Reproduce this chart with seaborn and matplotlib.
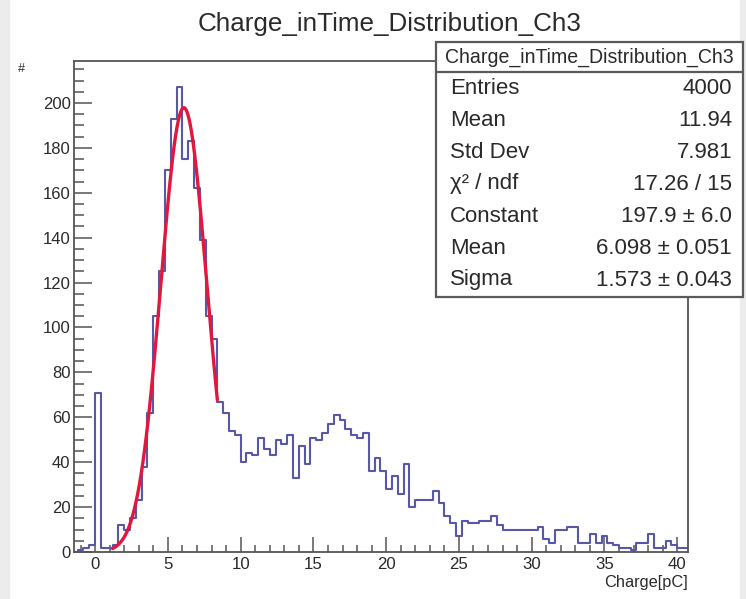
import numpy as np
import pandas as pd
import matplotlib
matplotlib.use("Agg")
import matplotlib.pyplot as plt
from matplotlib import font_manager
from matplotlib.patches import Rectangle
from matplotlib.ticker import MultipleLocator
import seaborn as sns

# ---- histogram data: 0.4 pC bins starting at -1.6 pC ----
bin_width = 0.4
first_edge = -1.6
counts = [
    0, 1, 2, 3,
    71, 2, 2, 3, 12, 10, 15, 23, 38, 62,
    105, 125, 170, 193, 207, 175, 183, 162, 139, 105,
    95, 67, 62, 54, 52, 40, 44, 43, 51, 46,
    43, 50, 48, 52, 33, 47, 39, 51, 50, 53,
    57, 61, 59, 55, 52, 51, 53, 36, 42, 36,
    28, 34, 26, 39, 20, 23, 23, 23, 27, 22,
    16, 13, 7, 14, 13, 13, 14, 14, 16, 12,
    10, 10, 10, 10, 10, 10, 11, 6, 4, 10,
    10, 11, 11, 4, 4, 8, 4, 7, 4, 3,
    2, 2, 1, 4, 4, 8, 2, 2, 5, 3, 2, 2,
]

# ---- gaussian fit result ----
fit_constant = 197.9
fit_mean = 6.098
fit_sigma = 1.573
fit_range = (1.2, 8.4)

# ---- statistics box ----
hist_name = "Charge_inTime_Distribution_Ch3"
stat_labels = ["Entries", "Mean", "Std Dev", "\u03c7\u00b2 / ndf", "Constant", "Mean", "Sigma"]
stat_values = ["4000", "11.94", "7.981", "17.26 / 15",
               "197.9 \u00b1 6.0", "6.098 \u00b1 0.051", "1.573 \u00b1 0.043"]

x_ticks = [0, 5, 10, 15, 20, 25, 30, 35, 40]
y_ticks = [0, 20, 40, 60, 80, 100, 120, 140, 160, 180, 200]

sns.set_theme(style="white")

# prefer a condensed Helvetica-like face; fall back to the regular width
available = {f.name for f in font_manager.fontManager.ttflist}
if "Liberation Sans Narrow" in available:
    families = ["Liberation Sans Narrow", "Liberation Sans", "DejaVu Sans"]
    fscale = 1.0
else:
    families = ["Liberation Sans", "DejaVu Sans"]
    fscale = 0.84
plt.rcParams["font.family"] = families

W, H = 746, 599
fig = plt.figure(figsize=(W / 100, H / 100), dpi=100)
fig.patch.set_facecolor("white")

def fx(px):
    return px / W

def fy(py):
    return 1 - py / H

def fs(px_em):
    # font size in points from an em height in pixels
    return px_em * 0.72 * fscale

# light side strips of the canvas
fig.patches.append(Rectangle((0, 0), fx(9), 1, transform=fig.transFigure,
                             color="#ececec", zorder=0))
fig.patches.append(Rectangle((fx(740), 0), fx(6), 1, transform=fig.transFigure,
                             color="#ececec", zorder=0))

left, right, top, bottom = 74, 688, 61, 552
ax = fig.add_axes([fx(left), fy(bottom), fx(right - left), (bottom - top) / H])
ax.set_facecolor("white")

edges = (first_edge + bin_width * np.arange(len(counts) + 1)).tolist()
hist_df = pd.DataFrame({"charge": np.array(edges[:-1]) + bin_width / 2,
                        "count": counts})

sns.histplot(data=hist_df, x="charge", weights="count", bins=edges,
             element="step", fill=False, color="#5858a8", linewidth=1.5, ax=ax)

xf = np.linspace(fit_range[0], fit_range[1], 300)
fit_df = pd.DataFrame({
    "charge": xf,
    "value": fit_constant * np.exp(-0.5 * ((xf - fit_mean) / fit_sigma) ** 2),
})
sns.lineplot(data=fit_df, x="charge", y="value", color="#e3173d", linewidth=2.4, ax=ax)

ax.set_xlim(-1.45, 40.74)
ax.set_ylim(0, 218.7)
ax.set_xlabel("")
ax.set_ylabel("")
ax.set_xticks(x_ticks)
ax.set_yticks(y_ticks)
ax.xaxis.set_minor_locator(MultipleLocator(1))
ax.yaxis.set_minor_locator(MultipleLocator(5))
ax.tick_params(axis="both", which="both", direction="in", colors="#555555",
               labelcolor="#2a2a2a", width=1.1,
               bottom=True, left=True, top=False, right=False)
ax.tick_params(axis="x", which="major", length=10.5, pad=3.5, labelsize=fs(20))
ax.tick_params(axis="x", which="minor", length=5)
ax.tick_params(axis="y", which="major", length=13, pad=2.5, labelsize=fs(19.8))
ax.tick_params(axis="y", which="minor", length=7)
for sp in ax.spines.values():
    sp.set_color("#555555")
    sp.set_linewidth(1.3)

# title and axis titles
fig.text(fx(390), fy(31), hist_name, ha="center", va="baseline",
         fontsize=fs(31), color="#2a2a2a")
fig.text(fx(21), fy(69), "#", ha="center", va="center", fontsize=fs(15),
         color="#2a2a2a")
fig.text(fx(688), fy(583), "Charge[pC]", ha="right", va="center",
         fontsize=fs(19.5), color="#2a2a2a")

# statistics box
box_l, box_r, box_t, box_b, head_b = 436, 743, 42, 297, 72
fig.patches.append(Rectangle((fx(box_l), fy(box_b)), fx(box_r - box_l),
                             (box_b - box_t) / H, transform=fig.transFigure,
                             facecolor="white", edgecolor="#5a5a5a",
                             linewidth=1.6, zorder=5))
fig.lines.append(plt.Line2D([fx(box_l), fx(box_r)], [fy(head_b), fy(head_b)],
                            transform=fig.transFigure, color="#5a5a5a",
                            linewidth=1.6, zorder=6))
fig.text(fx((box_l + box_r) / 2), fy(57), hist_name, ha="center", va="center",
         fontsize=fs(23.3), color="#2a2a2a", zorder=7)
row_y = [89, 121, 153, 184, 216, 248, 280]
for lab, val, yy in zip(stat_labels, stat_values, row_y):
    fig.text(fx(450), fy(yy), lab, ha="left", va="center", fontsize=fs(26.5),
             color="#2a2a2a", zorder=7)
    fig.text(fx(732), fy(yy), val, ha="right", va="center", fontsize=fs(26.5),
             color="#2a2a2a", zorder=7)

fig.savefig("out.png", dpi=100)
